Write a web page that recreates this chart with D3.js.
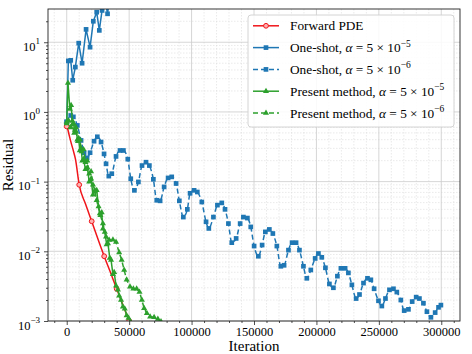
<!DOCTYPE html>
<html>
<head>
<meta charset="utf-8">
<script src="https://cdn.jsdelivr.net/npm/d3@7"></script>
<style>
  body { margin: 0; background: #fff; }
  text { font-family: "Liberation Serif", "Times New Roman", serif; }
</style>
</head>
<body>
<svg id="chart" width="472" height="354"></svg>
<script>
// --- data (iteration, residual) ---
const xTicks = [0, 50000, 100000, 150000, 200000, 250000, 300000]
const yTickExps = [-3, -2, -1, 0, 1]

const forwardIter = [0, 1000, 2000, 3000, 5000, 7000, 10000, 15000, 20000, 25000, 30000, 35000, 40000, 45000, 50000, 53000]
const forwardRes  = [0.62, 0.55, 0.46, 0.39, 0.29, 0.21, 0.09, 0.048, 0.027, 0.015, 0.0085, 0.005, 0.0029, 0.0017, 0.001, 0.0007]

const oneShot5Iter = [0, 1300, 3200, 4800, 6900, 9600, 12300, 15500, 18700, 21300, 24000, 26100, 28300, 30300, 32700, 34700]
const oneShot5Res  = [0.72, 5.4, 5.5, 2.85, 4.4, 9.7, 5.0, 15.3, 8.5, 20.0, 27.0, 14.8, 28.6, 45, 25.6, 50]

const oneShot6Iter = [0, 3200, 5300, 8500, 11500, 13900, 16300, 18700, 21900, 24500, 27500, 29900, 31500, 33700, 36100,
  39500, 42700, 45400, 48900, 51300, 54200, 57400, 60300, 63500, 66200, 69400, 72100, 74800, 78000, 81200, 84100,
  87600, 90200, 93400, 96600, 98800, 102000, 104600, 108200, 111600, 113800, 117500, 120700, 124200, 126800, 129500,
  132200, 135700, 138900, 141500, 144700, 147400, 150100, 153500, 156500, 159100, 162300, 165100, 168300, 171500,
  174100, 177600, 180500, 183700, 186400, 189600, 192300, 195500, 199000, 201600, 204300, 207200, 210400, 213600,
  216800, 219600, 223000, 225600, 228400, 231800, 234500, 237700, 240900, 243600, 246200, 249700, 252400, 255300,
  258500, 261700, 264400, 267600, 270300, 273700, 276700, 279900, 282500, 285700, 288500, 291700, 295100, 297800, 299700]
const oneShot6Res = [0.72, 0.89, 0.85, 0.64, 0.39, 0.26, 0.22, 0.26, 0.38, 0.44, 0.37, 0.25, 0.18, 0.12, 0.13,
  0.23, 0.28, 0.28, 0.21, 0.11, 0.075, 0.099, 0.17, 0.19, 0.17, 0.108, 0.054, 0.053, 0.084, 0.113, 0.117,
  0.094, 0.053, 0.031, 0.040, 0.068, 0.075, 0.071, 0.051, 0.0265, 0.0213, 0.031, 0.046, 0.0495, 0.040, 0.025,
  0.0133, 0.0153, 0.025, 0.031, 0.030, 0.0224, 0.0119, 0.0085, 0.0123, 0.019, 0.0206, 0.018, 0.0119, 0.0061,
  0.0063, 0.0104, 0.0133, 0.0133, 0.0104, 0.0061, 0.0041, 0.0054, 0.0079, 0.0093, 0.0082, 0.0058, 0.0034, 0.0030,
  0.0044, 0.0057, 0.0057, 0.0049, 0.0033, 0.0021, 0.0024, 0.0035, 0.0041, 0.0039, 0.0029, 0.00195, 0.00164, 0.0021,
  0.0028, 0.0029, 0.0026, 0.0020, 0.00141, 0.00147, 0.0019, 0.0022, 0.0021, 0.0018, 0.00136, 0.00113, 0.00132, 0.00157, 0.00169]

const present5Iter = [0, 1000, 2500, 3500, 4500, 5500, 6500, 7500, 8500, 9500, 10500, 11500, 12500, 13500, 15000, 16500,
  18000, 19500, 21000, 22500, 24000, 25500, 27000, 28000, 29000, 30500, 32000, 33000, 34500, 35500, 37000, 38000,
  39500, 41000, 42000, 43500, 45000, 46500, 48000, 49500, 51000]
const present5Res = [0.72, 2.6, 1.1, 1.25, 0.75, 0.68, 0.55, 0.6, 0.4, 0.42, 0.28, 0.3, 0.2, 0.21, 0.15, 0.16,
  0.1, 0.11, 0.065, 0.072, 0.075, 0.044, 0.033, 0.036, 0.021, 0.019, 0.0125, 0.013, 0.008, 0.0075, 0.0047, 0.005,
  0.0032, 0.0028, 0.0023, 0.002, 0.0016, 0.0015, 0.0012, 0.0011, 0.00098]

const present6Iter = [0, 1500, 3000, 4500, 6000, 7500, 9000, 10500, 12000, 13500, 15000, 16500, 18000, 19500, 21000,
  22500, 24000, 26500, 29000, 31500, 34000, 37000, 39500, 42000, 44000, 46000, 48000, 50700, 53400, 56000, 58300,
  60200, 62000, 64200, 66800, 70000, 73000, 75500]
const present6Res = [0.68, 0.75, 0.6, 0.66, 0.5, 0.52, 0.38, 0.4, 0.27, 0.29, 0.19, 0.2, 0.13, 0.14, 0.09,
  0.075, 0.054, 0.035, 0.025, 0.0162, 0.0145, 0.0147, 0.0136, 0.0096, 0.0075, 0.0054, 0.0039, 0.0031, 0.0029, 0.0029, 0.0026,
  0.0020, 0.00152, 0.00129, 0.00115, 0.00113, 0.00107, 0.00098]

const seriesNames = ["Forward PDE", "One-shot", "One-shot", "Present method", "Present method"]
const seriesAlphaExp = [null, "−5", "−6", "−5", "−6"]

// --- layout ---
const svg = d3.select("#chart")
const plotL = 48, plotR = 460, plotT = 9, plotB = 321
const serif = "'Liberation Serif', 'Times New Roman', serif"

const x = d3.scaleLinear().domain([-15000, 315000]).range([plotL, plotR])
const y = d3.scaleLog().domain([1e-3, 30]).range([plotB, plotT])

const zip = (a, b) => a.map((v, i) => [v, b[i]])

svg.append("defs").append("clipPath").attr("id", "plotclip")
    .append("rect").attr("x", plotL).attr("y", plotT)
    .attr("width", plotR - plotL).attr("height", plotB - plotT)

// grid
const xMinor = d3.range(-10000, 315000, 10000).filter(v => v % 50000 !== 0)
const yMinor = []
yTickExps.forEach(e => {
    for (let k = 2; k <= 9; k++) {
        const v = k * Math.pow(10, e)
        if (v > 1e-3 && v < 30) yMinor.push(v)
    }
})

const grid = svg.append("g")
grid.selectAll(".xminor").data(xMinor).join("line")
    .attr("x1", d => x(d)).attr("x2", d => x(d))
    .attr("y1", plotT).attr("y2", plotB)
    .attr("stroke", "#dcdcdc").attr("stroke-width", 0.6)
    .attr("stroke-dasharray", "1.5,1.5")
grid.selectAll(".yminor").data(yMinor).join("line")
    .attr("x1", plotL).attr("x2", plotR)
    .attr("y1", d => y(d)).attr("y2", d => y(d))
    .attr("stroke", "#dcdcdc").attr("stroke-width", 0.6)
    .attr("stroke-dasharray", "1.5,1.5")
grid.selectAll(".xmajor").data(xTicks).join("line")
    .attr("x1", d => x(d)).attr("x2", d => x(d))
    .attr("y1", plotT).attr("y2", plotB)
    .attr("stroke", "#cccccc").attr("stroke-width", 0.8)
grid.selectAll(".ymajor").data(yTickExps).join("line")
    .attr("x1", plotL).attr("x2", plotR)
    .attr("y1", d => y(Math.pow(10, d))).attr("y2", d => y(Math.pow(10, d)))
    .attr("stroke", "#cccccc").attr("stroke-width", 0.8)

// series
const plot = svg.append("g").attr("clip-path", "url(#plotclip)")
const lineSmooth = d3.line().x(d => x(d[0])).y(d => y(d[1])).curve(d3.curveMonotoneX)
const lineSharp = d3.line().x(d => x(d[0])).y(d => y(d[1]))

const red = "#f0151a", blue = "#1f77b4", green = "#2ca02c"
const square = d3.symbol().type(d3.symbolSquare).size(22)
const tri = d3.symbol().type(d3.symbolTriangle).size(16)

function drawSeries(pts, color, dash, line, marker, markFilter) {
    plot.append("path").datum(pts)
        .attr("d", line)
        .attr("fill", "none")
        .attr("stroke", color)
        .attr("stroke-width", 1.5)
        .attr("stroke-dasharray", dash)
    const mpts = pts.filter(markFilter || (() => true))
    if (marker === "circle") {
        plot.selectAll(null).data(mpts).join("circle")
            .attr("cx", d => x(d[0])).attr("cy", d => y(d[1])).attr("r", 2.4)
            .attr("fill", "#ffb0b0").attr("stroke", color).attr("stroke-width", 1)
    } else {
        plot.selectAll(null).data(mpts).join("path")
            .attr("transform", d => `translate(${x(d[0])},${y(d[1])})`)
            .attr("d", marker === "square" ? square : tri)
            .attr("fill", color)
    }
}

drawSeries(zip(forwardIter, forwardRes), red, null, lineSmooth, "circle", d => d[0] % 10000 === 0)
drawSeries(zip(oneShot5Iter, oneShot5Res), blue, null, lineSharp, "square")
drawSeries(zip(oneShot6Iter, oneShot6Res), blue, "5,3", lineSmooth, "square")
drawSeries(zip(present5Iter, present5Res), green, null, lineSharp, "triangle")
drawSeries(zip(present6Iter, present6Res), green, "5,3", lineSharp, "triangle")

// axes
const xAxis = svg.append("g").attr("transform", `translate(0,${plotB})`)
    .call(d3.axisBottom(x).tickValues(xTicks).tickSize(4).tickFormat(d3.format("d")))
xAxis.attr("font-family", serif)
xAxis.select(".domain").remove()
xAxis.selectAll(".tick text").attr("y", 6).attr("dy", "0.71em")
    .attr("font-size", "12.5px").attr("fill", "#000")
svg.append("g").attr("transform", `translate(0,${plotB})`)
    .call(d3.axisBottom(x).tickValues(xMinor).tickSize(2).tickFormat(""))
    .select(".domain").remove()

const yAxis = svg.append("g").attr("transform", `translate(${plotL},0)`)
    .call(d3.axisLeft(y).tickValues(yTickExps.map(e => Math.pow(10, e))).tickSize(4).tickFormat(""))
yAxis.attr("font-family", serif)
yAxis.select(".domain").remove()
yAxis.selectAll(".tick").each(function (d) {
    const e = Math.round(Math.log10(d))
    const t = d3.select(this).append("text")
        .attr("x", -8).attr("y", 8)
        .attr("text-anchor", "end").attr("fill", "#000")
        .attr("font-size", "12.5px")
    t.append("tspan").text("10")
    t.append("tspan").attr("dy", -6.5).attr("font-size", "9px")
        .text(e < 0 ? "−" + (-e) : String(e))
})
svg.append("g").attr("transform", `translate(${plotL},0)`)
    .call(d3.axisLeft(y).tickValues(yMinor).tickSize(2).tickFormat(""))
    .select(".domain").remove()

svg.selectAll(".tick line").attr("stroke", "#222").attr("stroke-width", 0.8)

// frame
svg.append("rect").attr("x", plotL).attr("y", plotT)
    .attr("width", plotR - plotL).attr("height", plotB - plotT)
    .attr("fill", "none").attr("stroke", "#222").attr("stroke-width", 0.9)

// axis labels
svg.append("text").attr("x", (plotL + plotR) / 2).attr("y", 351)
    .attr("text-anchor", "middle").attr("font-size", "15px").text("Iteration")
svg.append("text").attr("transform", `translate(12.5,${(plotT + plotB) / 2}) rotate(-90)`)
    .attr("text-anchor", "middle").attr("font-size", "15px").text("Residual")

// legend
const legend = svg.append("g")
legend.append("rect").attr("x", 248).attr("y", 15).attr("width", 206).attr("height", 112)
    .attr("rx", 3).attr("fill", "#fff").attr("fill-opacity", 0.85)
    .attr("stroke", "#cfcfcf").attr("stroke-width", 0.9)

const legColors = [red, blue, blue, green, green]
const legDash = [null, null, "5,3", null, "5,3"]
const legMarker = ["circle", "square", "square", "triangle", "triangle"]

seriesNames.forEach((name, i) => {
    const ry = 25.8 + i * 21.8
    const g = legend.append("g")
    g.append("line").attr("x1", 253).attr("x2", 279).attr("y1", ry).attr("y2", ry)
        .attr("stroke", legColors[i]).attr("stroke-width", 1.5)
        .attr("stroke-dasharray", legDash[i])
    if (legMarker[i] === "circle") {
        g.append("circle").attr("cx", 266).attr("cy", ry).attr("r", 2.4)
            .attr("fill", "#ffb0b0").attr("stroke", legColors[i])
    } else {
        g.append("path").attr("transform", `translate(266,${ry})`)
            .attr("d", legMarker[i] === "square" ? square : tri).attr("fill", legColors[i])
    }
    const t = g.append("text").attr("x", 290).attr("y", ry + 4.5)
        .attr("font-size", "13.3px").attr("fill", "#000")
    if (seriesAlphaExp[i] === null) {
        t.text(name)
    } else {
        t.append("tspan").text(name + ", ")
        t.append("tspan").attr("font-style", "italic").text("α")
        t.append("tspan").text(" = 5 × 10")
        t.append("tspan").attr("dy", -5.5).attr("font-size", "9.5px").text(seriesAlphaExp[i])
    }
})
</script>
</body>
</html>
